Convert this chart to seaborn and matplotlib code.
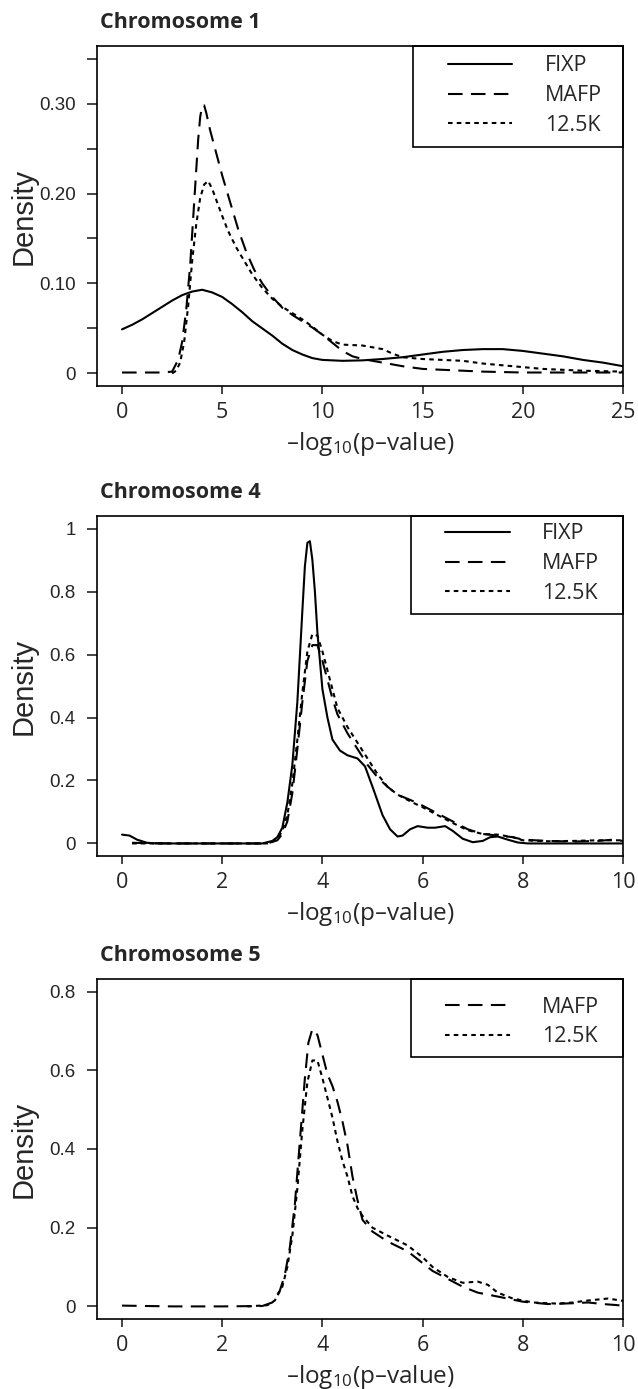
import matplotlib
matplotlib.use("Agg")
import matplotlib.pyplot as plt
import seaborn as sns
import pandas as pd
from matplotlib.patches import Rectangle

# ---- Chromosome 1 density curves ----
chr1_fixp_x = [0, 0.5, 1, 1.5, 2, 2.5, 3, 3.5, 4, 4.5, 5, 5.5, 6, 6.5, 7, 7.5, 8, 8.5, 9, 9.5,
               10, 11, 12, 13, 14, 15, 16, 17, 18, 19, 20, 21, 22, 23, 24, 25]
chr1_fixp_y = [0.049, 0.054, 0.060, 0.067, 0.074, 0.081, 0.087, 0.091, 0.093, 0.090, 0.085, 0.077,
               0.068, 0.058, 0.050, 0.042, 0.033, 0.026, 0.021, 0.017, 0.015, 0.014, 0.0145, 0.016,
               0.018, 0.021, 0.024, 0.026, 0.027, 0.027, 0.025, 0.022, 0.019, 0.015, 0.012, 0.008]
chr1_mafp_x = [0, 1, 2, 2.5, 2.8, 3.0, 3.2, 3.4, 3.6, 3.8, 3.9, 4.0, 4.1, 4.2, 4.4, 4.7, 5.0, 5.4,
               5.8, 6.2, 6.6, 7.0, 7.5, 8.0, 8.5, 9.0, 9.5, 10, 10.5, 11, 11.5, 12, 13, 14, 15, 16,
               17, 18, 20, 22, 25]
chr1_mafp_y = [0.001, 0.001, 0.001, 0.002, 0.015, 0.035, 0.07, 0.12, 0.19, 0.26, 0.285, 0.298,
               0.298, 0.29, 0.27, 0.245, 0.22, 0.19, 0.16, 0.135, 0.115, 0.10, 0.085, 0.073, 0.065,
               0.058, 0.051, 0.043, 0.034, 0.025, 0.019, 0.016, 0.012, 0.008, 0.005, 0.004, 0.003,
               0.002, 0.001, 0.001, 0.001]
chr1_k125_x = [2.5, 2.7, 2.9, 3.1, 3.3, 3.5, 3.7, 3.9, 4.1, 4.3, 4.5, 4.7, 5.0, 5.3, 5.7, 6.1, 6.5,
               7.0, 7.5, 8.0, 8.5, 9.0, 9.5, 10, 10.5, 11, 12, 13, 13.5, 14, 15, 16, 17, 18, 19, 20,
               21, 22, 23, 25]
chr1_k125_y = [0.0, 0.003, 0.012, 0.035, 0.075, 0.125, 0.165, 0.195, 0.21, 0.214, 0.205, 0.193,
               0.175, 0.158, 0.14, 0.125, 0.11, 0.095, 0.083, 0.074, 0.067, 0.06, 0.052, 0.043,
               0.036, 0.032, 0.031, 0.027, 0.022, 0.018, 0.016, 0.015, 0.014, 0.011, 0.009, 0.007,
               0.005, 0.004, 0.003, 0.002]

# ---- Chromosome 4 ----
chr4_fixp_x = [0, 0.15, 0.3, 0.5, 0.7, 2.8, 3.0, 3.1, 3.2, 3.3, 3.4, 3.5, 3.6, 3.65, 3.7, 3.75,
               3.8, 3.85, 3.9, 4.0, 4.1, 4.2, 4.35, 4.5, 4.7, 4.85, 5.0, 5.2, 5.35, 5.5, 5.6, 5.75,
               5.9, 6.1, 6.25, 6.45, 6.6, 6.8, 7.0, 7.2, 7.35, 7.5, 7.7, 7.9, 8.1, 10]
chr4_fixp_y = [0.028, 0.025, 0.012, 0.002, 0.0, 0.0, 0.008, 0.02, 0.05, 0.13, 0.25, 0.45, 0.74,
               0.88, 0.955, 0.96, 0.90, 0.80, 0.67, 0.49, 0.40, 0.33, 0.295, 0.28, 0.27, 0.245,
               0.18, 0.09, 0.045, 0.022, 0.025, 0.045, 0.055, 0.05, 0.05, 0.055, 0.04, 0.015,
               0.004, 0.008, 0.02, 0.022, 0.012, 0.003, 0.0, 0.0]
chr4_mafp_x = [0.2, 1, 2.9, 3.1, 3.2, 3.3, 3.4, 3.5, 3.6, 3.7, 3.8, 3.9, 4.0, 4.1, 4.2, 4.3, 4.5,
               4.7, 4.9, 5.1, 5.3, 5.5, 5.8, 6.0, 6.3, 6.6, 6.9, 7.2, 7.5, 7.8, 8.0, 8.5, 9.0, 9.5,
               9.8, 10]
chr4_mafp_y = [0.002, 0.0, 0.0, 0.01, 0.03, 0.07, 0.16, 0.30, 0.45, 0.58, 0.63, 0.63, 0.58, 0.52,
               0.46, 0.41, 0.35, 0.30, 0.25, 0.21, 0.18, 0.155, 0.135, 0.12, 0.095, 0.07, 0.045,
               0.03, 0.025, 0.02, 0.012, 0.008, 0.006, 0.008, 0.012, 0.008]
chr4_k125_x = [0.2, 1, 2.9, 3.0, 3.1, 3.2, 3.3, 3.4, 3.5, 3.6, 3.7, 3.8, 3.9, 4.0, 4.1, 4.2, 4.3,
               4.5, 4.7, 4.9, 5.1, 5.3, 5.5, 5.8, 6.0, 6.3, 6.6, 6.9, 7.2, 7.5, 7.8, 8.0, 8.5, 9.0,
               9.5, 10]
chr4_k125_y = [0.0, 0.0, 0.0, 0.005, 0.015, 0.04, 0.09, 0.19, 0.33, 0.48, 0.61, 0.665, 0.66, 0.61,
               0.55, 0.49, 0.43, 0.37, 0.32, 0.27, 0.22, 0.18, 0.155, 0.13, 0.115, 0.09, 0.065,
               0.042, 0.03, 0.028, 0.02, 0.01, 0.007, 0.008, 0.01, 0.01]

# ---- Chromosome 5 ----
chr5_mafp_x = [0, 1, 2, 2.8, 3.0, 3.15, 3.25, 3.35, 3.45, 3.55, 3.65, 3.72, 3.8, 3.9, 4.0, 4.1, 4.2,
               4.3, 4.4, 4.5, 4.6, 4.7, 4.8, 5.0, 5.3, 5.7, 6.0, 6.2, 6.5, 6.8, 7.1, 7.5, 8.0, 8.5,
               9.0, 9.3, 9.6, 10]
chr5_mafp_y = [0.002, 0.0, 0.0, 0.001, 0.01, 0.04, 0.08, 0.15, 0.26, 0.42, 0.58, 0.67, 0.705, 0.69,
               0.64, 0.59, 0.56, 0.52, 0.47, 0.41, 0.33, 0.27, 0.22, 0.19, 0.165, 0.14, 0.11, 0.09,
               0.07, 0.05, 0.035, 0.025, 0.012, 0.006, 0.008, 0.01, 0.006, 0.002]
chr5_k125_x = [2.5, 2.9, 3.05, 3.2, 3.3, 3.4, 3.5, 3.6, 3.7, 3.8, 3.9, 4.0, 4.1, 4.2, 4.3, 4.4, 4.5,
               4.6, 4.7, 4.8, 5.0, 5.3, 5.7, 6.0, 6.2, 6.5, 6.8, 7.1, 7.3, 7.5, 7.8, 8.2, 8.7, 9.0,
               9.3, 9.7, 10]
chr5_k125_y = [0.0, 0.003, 0.015, 0.05, 0.10, 0.18, 0.30, 0.45, 0.57, 0.625, 0.625, 0.58, 0.53, 0.48,
               0.42, 0.37, 0.33, 0.28, 0.25, 0.23, 0.20, 0.18, 0.155, 0.125, 0.10, 0.075, 0.06,
               0.063, 0.055, 0.035, 0.02, 0.01, 0.007, 0.01, 0.015, 0.02, 0.014]

styles = {"FIXP": "-", "MAFP": (0, (7, 4)), "12.5K": (0, (2.2, 2))}

sns.set_style("ticks")
plt.rcParams["font.family"] = ["Open Sans", "DejaVu Sans"]
plt.rcParams["mathtext.default"] = "regular"

fig = plt.figure(figsize=(6.38, 13.89), dpi=100)

panels = [
    dict(title="Chromosome 1", rect=[0.152, 0.7221, 0.8245, 0.2448],
         series=[("FIXP", chr1_fixp_x, chr1_fixp_y), ("MAFP", chr1_mafp_x, chr1_mafp_y),
                 ("12.5K", chr1_k125_x, chr1_k125_y)],
         xlim=(-1.25, 25), ylim=(-0.014, 0.364), xticks=[0, 5, 10, 15, 20, 25],
         yticks=[0, 0.05, 0.10, 0.15, 0.20, 0.25, 0.30, 0.35],
         ylabels=["0", "", "0.10", "", "0.20", "", "0.30", ""],
         leg=(0.667, 0.972), box=(0.601, 0.703)),
    dict(title="Chromosome 4", rect=[0.152, 0.3837, 0.8245, 0.2448],
         series=[("FIXP", chr4_fixp_x, chr4_fixp_y), ("MAFP", chr4_mafp_x, chr4_mafp_y),
                 ("12.5K", chr4_k125_x, chr4_k125_y)],
         xlim=(-0.5, 10), ylim=(-0.04, 1.04), xticks=[0, 2, 4, 6, 8, 10],
         yticks=[0, 0.2, 0.4, 0.6, 0.8, 1.0],
         ylabels=["0", "0.2", "0.4", "0.6", "0.8", "1"],
         leg=(0.662, 0.978), box=(0.597, 0.712)),
    dict(title="Chromosome 5", rect=[0.152, 0.0504, 0.8245, 0.2448],
         series=[("MAFP", chr5_mafp_x, chr5_mafp_y), ("12.5K", chr5_k125_x, chr5_k125_y)],
         xlim=(-0.5, 10), ylim=(-0.032, 0.832), xticks=[0, 2, 4, 6, 8, 10],
         yticks=[0, 0.2, 0.4, 0.6, 0.8],
         ylabels=["0", "0.2", "0.4", "0.6", "0.8"],
         leg=(0.662, 0.948), box=(0.597, 0.771)),
]

for p in panels:
    ax = fig.add_axes(p["rect"])
    for name, xs, ys in p["series"]:
        df = pd.DataFrame({"x": xs, "y": ys})
        sns.lineplot(data=df, x="x", y="y", ax=ax, color="black", linewidth=1.5,
                     linestyle=styles[name], label=name, errorbar=None)

    ax.set_xlim(*p["xlim"])
    ax.set_ylim(*p["ylim"])
    ax.set_xticks(p["xticks"])
    ax.set_xticklabels([str(t) for t in p["xticks"]])
    ax.set_yticks(p["yticks"])
    ax.set_yticklabels(p["ylabels"])

    for s in ax.spines.values():
        s.set_visible(True)
        s.set_linewidth(1.2)
        s.set_color("black")
    ax.tick_params(axis="x", direction="out", length=5.8, width=1.2, pad=6, labelsize=15.5)
    ax.tick_params(axis="y", direction="out", length=7.2, width=1.2, pad=8, labelsize=13.5)
    for lbl in ax.get_yticklabels():
        lbl.set_fontfamily("Liberation Sans")

    ax.set_xlabel("–log$_{10}$(p–value)", fontsize=17.5)
    ax.xaxis.set_label_coords(0.519, -0.13)
    ax.set_ylabel("Density", fontsize=21, family="Liberation Sans")
    ax.yaxis.set_label_coords(-0.112, 0.5)

    ax.text(0.006, 1.053, p["title"], transform=ax.transAxes, fontsize=15.5,
            fontweight="bold", ha="left", va="baseline")

    ax.legend(loc="upper left", bbox_to_anchor=p["leg"], bbox_transform=ax.transAxes,
              frameon=False, borderpad=0, borderaxespad=0, handlelength=3.0,
              handletextpad=1.5, labelspacing=0.4, prop={"family": "Open Sans", "size": 15.5})
    bx, by = p["box"]
    ax.add_patch(Rectangle((bx, by), 1 - bx, 1 - by, transform=ax.transAxes, fill=False,
                           edgecolor="black", linewidth=1.2, clip_on=False))

fig.savefig("out.png", dpi=100)
